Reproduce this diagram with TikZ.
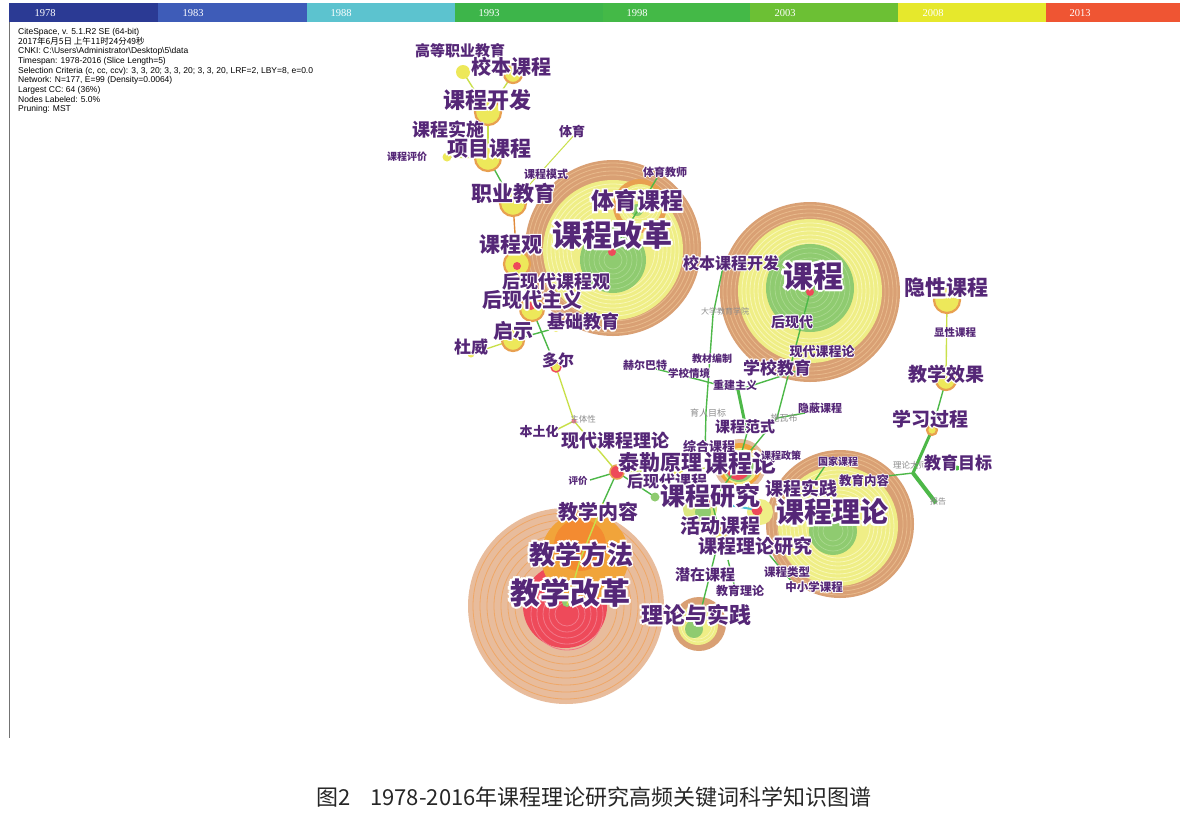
\documentclass[tikz,border=0pt]{standalone}
\usepackage{fontspec}
\newfontfamily\cjk{Noto Sans CJK SC}
\newfontfamily\infofont{Liberation Sans}
\newfontfamily\tlfont{Liberation Serif}
\pgfdeclarelayer{back}
\pgfdeclarelayer{mid}
\pgfsetlayers{back,mid,main}
\definecolor{lbc}{HTML}{552777}
\definecolor{tanB}{HTML}{D9A074}
\definecolor{tanL}{HTML}{E8BA8C}
\definecolor{yelB}{HTML}{EFEE86}
\definecolor{yelL}{HTML}{F8F7B8}
\definecolor{grnB}{HTML}{8FCB70}
\definecolor{grnL}{HTML}{A9D98E}
\definecolor{peach}{HTML}{E8BC9C}
\definecolor{peachL}{HTML}{EFA868}
\definecolor{redC}{HTML}{EE4A5A}
\definecolor{redL}{HTML}{F27888}
\definecolor{orgC}{HTML}{F1A43A}
\definecolor{eg}{HTML}{4DB848}
\definecolor{ey}{HTML}{C9E04A}
\definecolor{eo}{HTML}{E08A3A}
\definecolor{ecy}{HTML}{4FC3D8}
\definecolor{nodeY}{HTML}{EDE85A}
\definecolor{nodeO}{HTML}{E8A050}
\definecolor{tA}{HTML}{2B3A94}
\definecolor{tB}{HTML}{3E5CB8}
\definecolor{tC}{HTML}{5CC3CF}
\definecolor{tD}{HTML}{3DB54A}
\definecolor{tE}{HTML}{44B947}
\definecolor{tF}{HTML}{6CC034}
\definecolor{tG}{HTML}{E6E82C}
\definecolor{tH}{HTML}{EF5533}
\newcommand\hc[2]{\rlap{\raise#2\hbox{\kern#1\copy0}}}
\newcommand\halo[1]{\setbox0=\hbox{#1}{\color{white}\hc{.07em}{0pt}\hc{-.07em}{0pt}\hc{0pt}{.07em}\hc{0pt}{-.07em}\hc{.05em}{.05em}\hc{-.05em}{.05em}\hc{.05em}{-.05em}\hc{-.05em}{-.05em}}\box0}
\tikzset{
  lab/.style={font={\cjk\bfseries\fontsize{#1}{#1}\selectfont}, text=lbc, inner sep=0pt},
  glab/.style={font={\cjk\fontsize{#1}{#1}\selectfont}, text=black!45, inner sep=0pt},
  snode/.style={circle, inner sep=0pt, minimum size=#1, fill=nodeY, draw=nodeO, line width=2.2pt},
  rnode/.style={circle, inner sep=0pt, minimum size=#1, fill=redC, draw=nodeO, line width=1.5pt},
  tiny/.style={circle, inner sep=0pt, minimum size=#1, fill=nodeY},
  gE/.style={draw=eg, line width=1.4pt},
  yE/.style={draw=ey, line width=1.4pt},
  oE/.style={draw=eo, line width=1.4pt},
  tlbar/.style={font={\tlfont\fontsize{10.5}{10.5}\selectfont}, text=white, inner sep=0pt},
}
\newcommand\lb[5]{\node[lab={#4}] (#1) at (#2,#3) {\halo{#5}};}
\newcommand\gl[5]{\node[glab={#4}] (#1) at (#2,#3) {#5};}
\begin{document}
\begin{tikzpicture}[x=1pt,y=-1pt]
\useasboundingbox (0,0) rectangle (1184,823);
\begin{pgfonlayer}{back}
\fill[white] (0,0) rectangle (1184,823);
% timeline
\fill[tA] (9,3) rectangle (158,22);
\fill[tB] (158,3) rectangle (307,22);
\fill[tC] (307,3) rectangle (455,22);
\fill[tD] (455,3) rectangle (603,22);
\fill[tE] (603,3) rectangle (750,22);
\fill[tF] (750,3) rectangle (898,22);
\fill[tG] (898,3) rectangle (1046,22);
\fill[tH] (1046,3) rectangle (1180,22);
\draw[black!55, line width=0.8pt] (9,22) -- (9,738);
% big circle: 课程改革
\fill[tanB] (613,248) circle[radius=88];
\foreach \r in {85,81,77,73} \draw[tanL, line width=0.8pt] (613,248) circle[radius=\r];
\fill[yelB] (613,250) circle[radius=70];
\foreach \r in {66,62,58,54,50,46,42} \draw[yelL, line width=0.8pt] (613,250) circle[radius=\r];
\fill[grnB] (613,260) circle[radius=33];
\foreach \r in {29,24,19,14,9} \draw[grnL, line width=0.7pt] (613,260) circle[radius=\r];
% 体育课程
\fill[nodeO] (640,206) circle[radius=27];
\fill[yelB] (640,206) circle[radius=22];
\foreach \r in {19,16,13} \draw[yelL, line width=0.6pt] (640,206) circle[radius=\r];
\fill[grnB] (637,210) circle[radius=6];
% big circle: 课程
\fill[tanB] (810,292) circle[radius=90];
\foreach \r in {87,83,79,75} \draw[tanL, line width=0.8pt] (810,292) circle[radius=\r];
\fill[yelB] (810,291) circle[radius=72];
\foreach \r in {68,64,60,56,52,48} \draw[yelL, line width=0.8pt] (810,291) circle[radius=\r];
\fill[grnB] (810,288) circle[radius=44];
\foreach \r in {40,35,30,25,20,15,10} \draw[grnL, line width=0.7pt] (810,288) circle[radius=\r];
% 课程理论
\fill[tanB] (840,524) circle[radius=74];
\foreach \r in {71,67,63} \draw[tanL, line width=0.8pt] (840,524) circle[radius=\r];
\fill[yelB] (838,526) circle[radius=60];
\foreach \r in {56,52,48,44,40,36,32} \draw[yelL, line width=0.8pt] (838,526) circle[radius=\r];
\fill[grnB] (833,531) circle[radius=24];
\foreach \r in {20,15,10} \draw[grnL, line width=0.7pt] (833,531) circle[radius=\r];
% 教学改革
\fill[peach] (566,606) circle[radius=98];
\foreach \r in {93,86,79,72,65,58,51} \draw[peachL, line width=0.8pt] (566,606) circle[radius=\r];
\fill[redC] (565,606) circle[radius=42];
\foreach \r in {36,30,24,18,12} \draw[redL, line width=0.8pt] (567,614) circle[radius=\r];
\fill[orgC] (585,556) circle[radius=44];
\fill[orgC!85!red] (580,545) circle[radius=26];
\fill[grnB] (567,602) circle[radius=5];
% 理论与实践
\fill[tanB] (699,624) circle[radius=27];
\fill[yelB] (698,625) circle[radius=20];
\foreach \r in {17,14} \draw[yelL, line width=0.6pt] (698,625) circle[radius=\r];
\fill[grnB] (694,629) circle[radius=9];
% 课程论 rainbow
\fill[tanB!70] (740,465) circle[radius=26];
\fill[orgC] (740,465) circle[radius=22];
\fill[yelB] (740,466) circle[radius=18];
\fill[grnB] (739,467) circle[radius=15];
\fill[redC] (738,468) circle[radius=12];
% cluster around 课程研究
\fill[yelB!80!grnB] (700,508) circle[radius=17];
\fill[grnB] (703,512) circle[radius=8];
\fill[yelB] (760,512) circle[radius=13];
\end{pgfonlayer}

% nodes (dots)
\node[tiny=14pt] (gz) at (463,72) {};
\node[snode=18pt] (xb) at (513,74) {};
\node[snode=26pt] (kf) at (488,112) {};
\node[snode=26pt] (xm) at (488,158) {};
\node[tiny=9pt] (pj) at (447,157) {};
\coordinate (ty) at (576,133);
\node[snode=26pt] (zy) at (513,203) {};
\node[snode=26pt] (kcg) at (517,264) {};
\node[circle, fill=redC, inner sep=0pt, minimum size=8pt] (kcgr) at (517,266) {};
\node[snode=24pt] (hxd) at (532,309) {};
\node[circle, fill=redC, inner sep=0pt, minimum size=8pt] (hxdr) at (531,306) {};
\node[snode=22pt] (qs) at (513,340) {};
\node[tiny=7pt] (dw) at (471,354) {};
\node[tiny=8pt] (jc) at (556,328) {};
\node[circle, fill=nodeY, draw=redC, line width=1.4pt, inner sep=0pt, minimum size=10pt] (de) at (556,367) {};
\node[circle, fill=redL, inner sep=0pt, minimum size=5pt] (zt) at (574,421) {};
\coordinate (bt) at (556,430);
\node[rnode=14pt] (tl) at (617,472) {};
\coordinate (pjv) at (590,480);
\coordinate (jxnr) at (603,503);
\node[circle, fill=grnB, inner sep=0pt, minimum size=9pt] (hxdkc) at (655,497) {};
\node[tiny=12pt] (zh) at (677,470) {};
\coordinate (kcl) at (738,466);
\coordinate (xbkf) at (724,262);
\coordinate (dx) at (713,315);
\coordinate (yr) at (706,412);
\coordinate (vb) at (705,455);
\coordinate (hr) at (656,369);
\coordinate (xq) at (700,380);
\coordinate (cj) at (738,390);
\coordinate (xj) at (800,370);
\coordinate (kcf) at (747,433);
\node[circle, fill=redC, inner sep=0pt, minimum size=8pt] (kc) at (810,292) {};
\coordinate (sw) at (777,418);
\coordinate (yb) at (805,413);
\node[circle, fill=redC, inner sep=0pt, minimum size=11pt] (kcyj) at (712,502) {};
\node[circle, fill=redC, inner sep=0pt, minimum size=11pt] (kcsj) at (757,510) {};
\node[snode=14pt] (hd) at (720,535) {};
\coordinate (llsj) at (699,618);
\node[snode=26pt] (yx) at (947,300) {};
\node[snode=20pt] (jxxg) at (946,380) {};
\node[snode=10pt] (xxgc) at (932,430) {};
\coordinate (jn) at (913,473);
\coordinate (bg) at (936,503);
\coordinate (jynr) at (887,476);
\node[circle, fill=eg, inner sep=0pt, minimum size=5pt] (jymb) at (957,468) {};
\coordinate (gj) at (825,466);
\coordinate (gj2) at (810,488);
\coordinate (llyj) at (767,552);
\coordinate (zxx) at (792,582);
\coordinate (jyll) at (735,588);
\coordinate (jyll2) at (728,560);
\node[circle, fill=redC, inner sep=0pt, minimum size=8pt] (kcgg) at (612,252) {};
\coordinate (tykc) at (638,210);
\coordinate (tyjs) at (657,178);
\coordinate (jxm) at (580,560);
\coordinate (jxg) at (567,605);

% edges
\begin{pgfonlayer}{mid}
\draw[yE] (gz.center) -- (kf.center);
\draw[yE] (xb.center) -- (kf.center);
\draw[yE] (kf.center) -- (xm.center);
\draw[yE] (pj.center) -- (xm.center);
\draw[gE] (xm.center) -- (zy.center);
\draw[yE, line width=1pt] (ty) -- (zy.center);
\draw[oE] (zy.center) -- (kcg.center);
\draw[yE] (kcg.center) -- (hxd.center);
\draw[gE] (hxd.center) -- (de.center);
\draw[yE] (qs.center) -- (dw.center);
\draw[gE] (qs.center) -- (jc.center);
\draw[yE] (de.center) -- (zt.center);
\draw[yE] (zt.center) -- (bt);
\draw[yE] (zt.center) -- (tl.center);
\draw[gE] (tl.center) -- (pjv);
\draw[gE] (tl.center) -- (jxnr);
\draw[gE] (tl.center) -- (hxdkc.center);
\draw[yE] (tl.center) -- (zh.center);
\draw[yE] (zh.center) -- (kcl);
\draw[gE] (xbkf) -- (dx) -- (yr) -- (vb);
\draw[gE] (hr) -- (xq) -- (cj) -- (xj);
\draw[gE, line width=3pt] (cj) -- (kcf);
\draw[gE] (kcf) -- (kcl);
\draw[gE] (kc.center) -- (sw) -- (kcl);
\draw[gE] (yb) -- (sw);
\draw[gE] (kcl) -- (kcyj.center);
\draw[ecy, line width=2pt] (kcyj.center) -- (kcsj.center);
\draw[gE] (kcyj.center) -- (hd.center);
\draw[gE] (hd.center) -- (llsj);
\draw[gE] (llyj) -- (zxx);
\draw[gE] (jyll2) -- (jyll);
\draw[yE] (yx.center) -- (jxxg.center);
\draw[gE] (jxxg.center) -- (xxgc.center);
\draw[gE, line width=3pt] (xxgc.center) -- (jn);
\draw[gE, line width=4pt] (jn) -- (bg);
\draw[gE] (jn) -- (jynr);
\draw[gE] (gj) -- (gj2);
\draw[gE] (kcgg.center) -- (tykc) -- (tyjs);
\draw[yE] (jxnr) -- (jxm) -- (jxg);
\end{pgfonlayer}

% labels
\lb{l1}{460}{51}{15}{高等职业教育}
\lb{l2}{511}{67}{20}{校本课程}
\lb{l3}{487}{100}{22}{课程开发}
\lb{l4}{448}{130}{18}{课程实施}
\lb{l5}{489}{149}{21}{项目课程}
\lb{l6}{407}{157}{10}{课程评价}
\lb{l7}{572}{131}{13}{体育}
\lb{l8}{546}{174}{11}{课程模式}
\lb{l9}{665}{172}{11}{体育教师}
\lb{l10}{513}{193}{21}{职业教育}
\lb{l11}{637}{201}{23}{体育课程}
\lb{l12}{612}{235}{30}{课程改革}
\lb{l13}{511}{245}{21}{课程观}
\lb{l14}{556}{282}{18}{后现代课程观}
\lb{l15}{532}{300}{20}{后现代主义}
\lb{l16}{731}{263}{16}{校本课程开发}
\lb{l17}{813}{276}{30}{课程}
\lb{l18}{946}{288}{21}{隐性课程}
\lb{l19}{583}{322}{18}{基础教育}
\lb{l20}{513}{331}{20}{启示}
\lb{l21}{471}{347}{17}{杜威}
\gl{l22}{725}{311}{8}{大学教育学院}
\lb{l23}{792}{322}{14}{后现代}
\lb{l24}{955}{333}{10.5}{显性课程}
\lb{l25}{558}{360}{16}{多尔}
\lb{l26}{822}{352}{13}{现代课程论}
\lb{l27}{712}{359}{10}{教材编制}
\lb{l28}{777}{368}{17}{学校教育}
\lb{l29}{645}{365}{11}{赫尔巴特}
\lb{l30}{689}{373}{10.5}{学校情境}
\lb{l31}{735}{385}{11}{重建主义}
\lb{l32}{946}{374}{19}{教学效果}
\lb{l33}{820}{408}{11}{隐蔽课程}
\lb{l34}{930}{419}{19}{学习过程}
\gl{l35}{583}{419}{8.5}{主体性}
\gl{l36}{708}{413}{9}{育人目标}
\gl{l37}{784}{418}{9}{施瓦布}
\lb{l38}{745}{427}{15}{课程范式}
\lb{l39}{539}{432}{13}{本土化}
\lb{l40}{615}{441}{18}{现代课程理论}
\lb{l42}{660}{462}{21}{泰勒原理}
\lb{l43}{740}{463}{24}{课程论}
\lb{l41}{709}{446}{13}{综合课程}
\lb{l44}{781}{456}{10}{课程政策}
\lb{l45}{838}{462}{10}{国家课程}
\gl{l46}{910}{465}{8.5}{理论大师}
\lb{l47}{958}{463}{17}{教育目标}
\lb{l48}{864}{481}{12.5}{教育内容}
\lb{l49}{578}{481}{9.5}{评价}
\lb{l50}{667}{481}{16}{后现代课程}
\lb{l51}{801}{489}{18}{课程实践}
\gl{l52}{938}{501}{8}{报告}
\lb{l53}{710}{496}{25}{课程研究}
\lb{l54}{598}{512}{20}{教学内容}
\lb{l55}{832}{512}{28}{课程理论}
\lb{l56}{720}{526}{20}{活动课程}
\lb{l57}{755}{546}{19}{课程理论研究}
\lb{l58}{581}{554}{26}{教学方法}
\lb{l59}{705}{575}{15}{潜在课程}
\lb{l60}{787}{572}{11.5}{课程类型}
\lb{l61}{814}{587}{11.5}{中小学课程}
\lb{l62}{740}{591}{12}{教育理论}
\lb{l63}{570}{593}{30}{教学改革}
\lb{l64}{696}{615}{22}{理论与实践}

% timeline labels
\node[tlbar] (y1) at (45,13) {1978};
\node[tlbar] (y2) at (193,13) {1983};
\node[tlbar] (y3) at (341,13) {1988};
\node[tlbar] (y4) at (489,13) {1993};
\node[tlbar] (y5) at (637,13) {1998};
\node[tlbar] (y6) at (785,13) {2003};
\node[tlbar] (y7) at (933,13) {2008};
\node[tlbar] (y8) at (1080,13) {2013};

% info
\node[font={\infofont\fontsize{8.5}{9.7}\selectfont}, align=left, inner sep=0pt, anchor=north west] (info) at (18,28) {CiteSpace, v. 5.1.R2 SE (64-bit)\\{\cjk 2017年6月5日 上午11时24分49秒}\\CNKI: C:\textbackslash Users\textbackslash Administrator\textbackslash Desktop\textbackslash 5\textbackslash data\\Timespan: 1978-2016 (Slice Length=5)\\Selection Criteria (c, cc, ccv): 3, 3, 20; 3, 3, 20; 3, 3, 20, LRF=2, LBY=8, e=0.0\\Network: N=177, E=99 (Density=0.0064)\\Largest CC: 64 (36\%)\\Nodes Labeled: 5.0\%\\Pruning: MST};

% caption
\node[font={\cjk\fontsize{22}{22}\selectfont}, text=black!85, inner sep=0pt] (cap) at (594,797) {图2\hspace{0.9em}1978-2016年课程理论研究高频关键词科学知识图谱};
\end{tikzpicture}
\end{document}
